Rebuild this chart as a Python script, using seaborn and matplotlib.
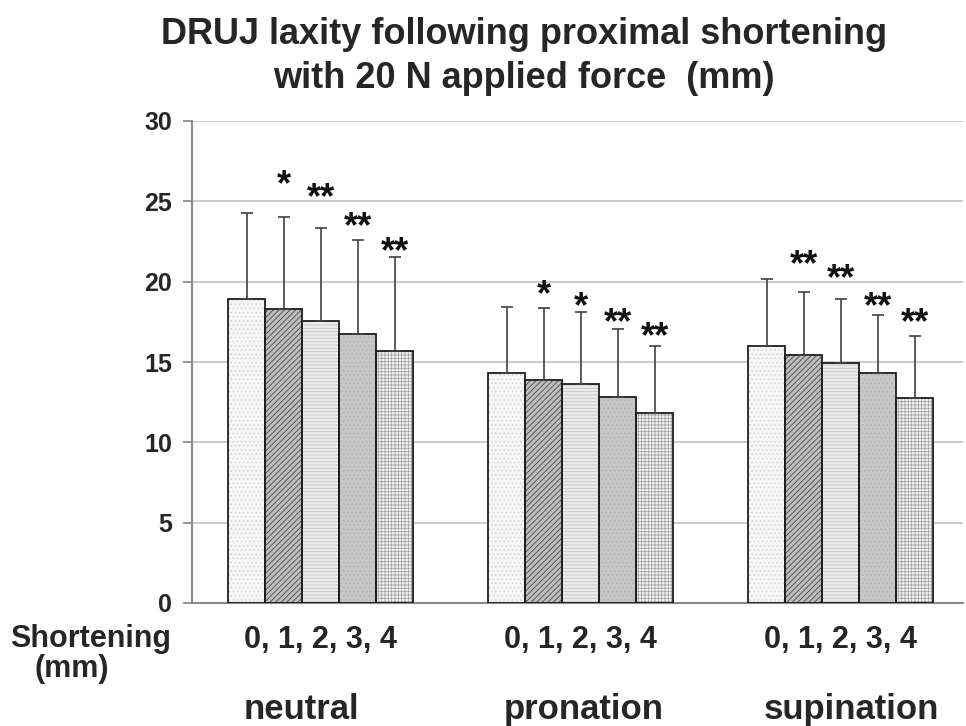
import numpy as np
import pandas as pd
import matplotlib
matplotlib.use("Agg")
import matplotlib.pyplot as plt
from matplotlib.patches import Rectangle
from matplotlib.container import BarContainer
import seaborn as sns

# ---------------- data ----------------
positions = ["neutral", "pronation", "supination"]
shortening = ["0", "1", "2", "3", "4"]
tick_label = "0, 1, 2, 3, 4"

mean_neutral = [18.9, 18.27, 17.57, 16.72, 15.66]
mean_pronation = [14.33, 13.88, 13.63, 12.84, 11.84]
mean_supination = [15.99, 15.45, 14.91, 14.31, 12.74]

sd_neutral = [5.35, 5.77, 5.79, 5.87, 5.85]
sd_pronation = [4.11, 4.50, 4.48, 4.19, 4.15]
sd_supination = [4.15, 3.90, 4.01, 3.61, 3.87]

sig_neutral = ["", "*", "**", "**", "**"]
sig_pronation = ["", "*", "*", "**", "**"]
sig_supination = ["", "**", "**", "**", "**"]

# heights (data units) of the asterisk marks' centres
sig_y_neutral = [0, 26.66, 25.85, 24.03, 22.49]
sig_y_pronation = [0, 19.79, 19.06, 18.07, 17.16]
sig_y_supination = [0, 21.66, 20.77, 19.06, 18.03]

yticks = [0, 5, 10, 15, 20, 25, 30]

# ---------------- styles ----------------
face_colors = ["#f6f6f6", "#bdbdbd", "#ebebeb", "#c6c6c6", "#f4f4f4"]
hatch_colors = ["#d2d2d2", "#4a4a4a", "#c4c4c4", "#b2b2b2", "#a4a4a4"]
hatches = ["....", "//////", "-----", "....", "+++++"]
SIG_FS = 26

sns.set_style("white")
plt.rcParams["font.family"] = ["Liberation Sans", "DejaVu Sans"]
plt.rcParams["font.weight"] = "bold"
plt.rcParams["hatch.linewidth"] = 0.6

means = [mean_neutral, mean_pronation, mean_supination]
sds = [sd_neutral, sd_pronation, sd_supination]
sigs = [sig_neutral, sig_pronation, sig_supination]
sig_ys = [sig_y_neutral, sig_y_pronation, sig_y_supination]

rows = []
for i, pos in enumerate(positions):
    for j, s in enumerate(shortening):
        rows.append({"position": pos, "shortening": s,
                     "laxity": means[i][j], "sd": sds[i][j],
                     "sig": sigs[i][j], "sig_y": sig_ys[i][j]})
df = pd.DataFrame(rows)

fig = plt.figure(figsize=(9.66, 7.26), dpi=100)
ax = fig.add_axes([192 / 966, 1 - 603 / 726, (963 - 192) / 966, (603 - 121) / 726])

sns.barplot(data=df, x="position", y="laxity", hue="shortening",
            order=positions, hue_order=shortening,
            palette=face_colors, errorbar=None, width=0.712,
            legend=False, ax=ax, zorder=2)

bar_containers = [c for c in ax.containers if isinstance(c, BarContainer)]
for j, cont in enumerate(bar_containers):
    for i, p in enumerate(cont.patches):
        p.set_facecolor(face_colors[j])
        p.set_edgecolor(hatch_colors[j])
        p.set_linewidth(0)
        p.set_hatch(hatches[j])
        ax.add_patch(Rectangle((p.get_x(), p.get_y()), p.get_width(), p.get_height(),
                               fill=False, edgecolor="#1e1e1e", linewidth=1.3, zorder=3))
        xc = p.get_x() + p.get_width() / 2
        row = df[(df.position == positions[i]) & (df.shortening == shortening[j])].iloc[0]
        ax.errorbar([xc], [row.laxity], yerr=[[0], [row.sd]], fmt="none",
                    ecolor="#404040", elinewidth=1.2, capsize=4.3, capthick=1.2, zorder=4)
        if row.sig:
            ax.annotate(row.sig, xy=(xc, row.sig_y), xytext=(0, -0.56 * SIG_FS),
                        textcoords="offset points", ha="center", va="baseline",
                        fontsize=SIG_FS, fontweight="bold", color="#111111")

ax.set_ylim(0, 30)
ax.set_xlim(-0.4954, 2.47)
ax.set_yticks(yticks)
ax.set_yticklabels([str(v) for v in yticks], fontsize=18, fontweight="bold")
ax.set_xticks(range(len(positions)))
ax.set_xticklabels([tick_label] * len(positions), fontsize=22, fontweight="bold")
ax.tick_params(axis="x", length=0, pad=15.8)
ax.tick_params(axis="y", length=6.5, width=1.3, color="#8a8a8a", pad=8, left=True)
ax.set_xlabel("")
ax.set_ylabel("")
ax.yaxis.grid(True, color="#c8c8c8", linewidth=1.3, zorder=0)
ax.set_axisbelow(True)
for side in ["top", "right"]:
    ax.spines[side].set_visible(False)
for side in ["left", "bottom"]:
    ax.spines[side].set_color("#8a8a8a")
    ax.spines[side].set_linewidth(1.5)

# position names, left-aligned under the tick labels
for i, pos in enumerate(positions):
    ax.text(i - 0.298, (603 - 719) / 482, pos, transform=ax.get_xaxis_transform(),
            ha="left", va="baseline", fontsize=25, fontweight="bold")

fig.text(10 / 966, 1 - 647 / 726, "Shortening", ha="left", va="baseline",
         fontsize=22, fontweight="bold")
fig.text(35 / 966, 1 - 677 / 726, "(mm)", ha="left", va="baseline",
         fontsize=22, fontweight="bold")

fig.text(524 / 966, 1 - 44 / 726, "DRUJ laxity following proximal shortening",
         ha="center", va="baseline", fontsize=26, fontweight="bold")
fig.text(524 / 966, 1 - 88 / 726, "with 20 N applied force  (mm)",
         ha="center", va="baseline", fontsize=26, fontweight="bold")

fig.savefig("out.png", dpi=100)
